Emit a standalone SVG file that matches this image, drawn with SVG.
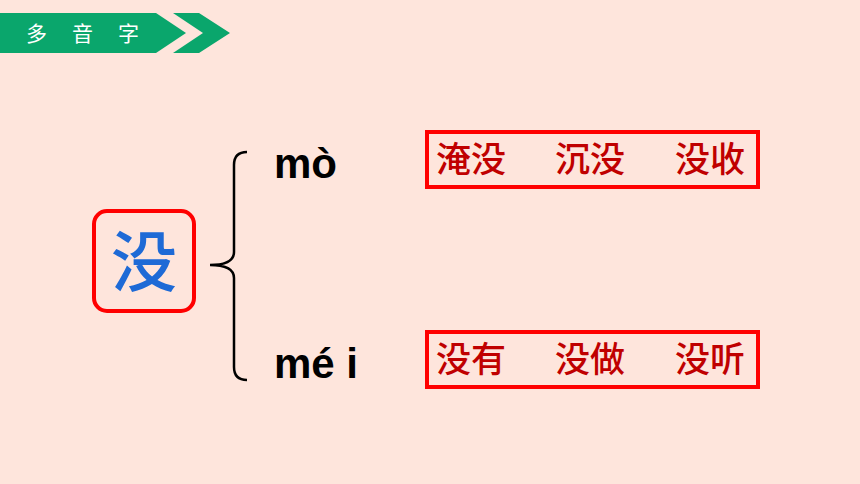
<svg xmlns="http://www.w3.org/2000/svg" width="860" height="484" viewBox="0 0 860 484">
<style>
.hdr{font-family:"Noto Sans CJK SC","Noto Sans",sans-serif;font-size:21px;fill:#ffffff}
.py{font-family:"Liberation Sans",Arial,sans-serif;font-weight:bold;font-size:42px;fill:#000000}
.word{font-family:"Noto Sans CJK SC","Noto Sans",sans-serif;font-size:35px;font-weight:500;fill:#C00000}
.box{fill:none;stroke:#FF0000;stroke-width:4}
</style>
<rect width="860" height="484" fill="#FEE5DC"/>
<g id="banner">
<polygon points="0,13 156,13 186,33 156,53 0,53" fill="#0AA66C"/>
<polygon points="173,13 199,13 230,33 199,53 173,53 203,33" fill="#0AA66C"/>
<text class="hdr" x="26" y="41">多</text>
<text class="hdr" x="72" y="41">音</text>
<text class="hdr" x="118" y="41">字</text>
</g>
<g id="char">
<rect x="94" y="211" width="100" height="100" rx="13" class="box"/>
<text x="144" y="286" text-anchor="middle" font-family="'Noto Sans CJK SC',sans-serif" font-size="66" font-weight="500" fill="#1E6AD6">没</text>
</g>
<g id="connectors">
<path d="M247,152 Q234,152 234,165 L234,252 Q234,265 210,265 Q234,265 234,278 L234,367 Q234,380 247,380" fill="none" stroke="#000" stroke-width="2.5"/>
</g>
<g id="mo">
<text class="py" x="274" y="178">mò</text>
</g>
<g id="mei">
<text class="py" x="274" y="378">mé i</text>
</g>
<g id="mo-words">
<rect x="427" y="132" width="331" height="55" class="box"/>
<text class="word" x="436" y="172">淹没</text>
<text class="word" x="555" y="172">沉没</text>
<text class="word" x="675" y="172">没收</text>
</g>
<g id="mei-words">
<rect x="427" y="332" width="331" height="55" class="box"/>
<text class="word" x="436" y="372">没有</text>
<text class="word" x="555" y="372">没做</text>
<text class="word" x="675" y="372">没听</text>
</g>
</svg>
